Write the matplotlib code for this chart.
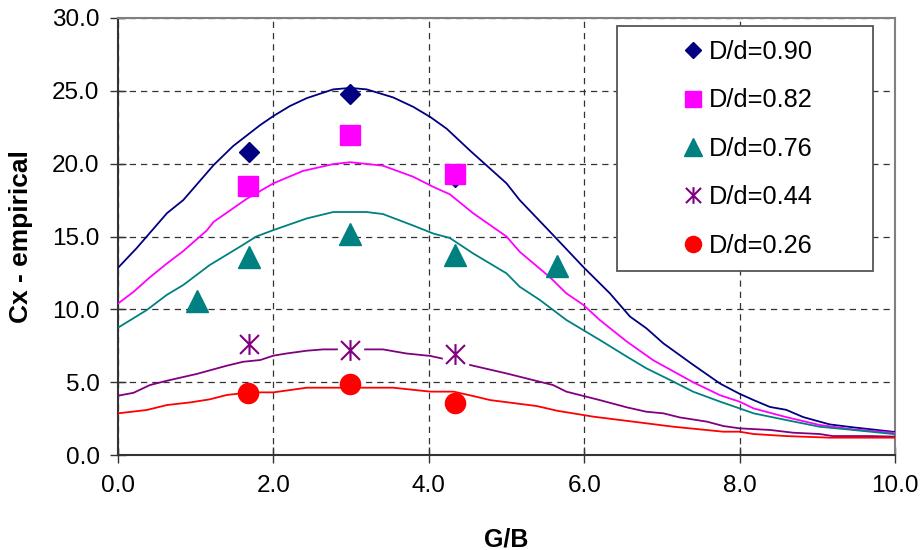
import numpy as np
import matplotlib.pyplot as plt
from matplotlib.path import Path
from matplotlib.patches import Rectangle

# measured points (markers)
x090 = [1.69, 2.99, 4.34]
y090 = [20.8, 24.8, 19.1]
x082 = [1.67, 2.99, 4.34]
y082 = [18.5, 22.0, 19.3]
x076 = [1.02, 1.69, 2.99, 4.34, 5.65]
y076 = [10.6, 13.6, 15.2, 13.7, 13.0]
x044 = [1.69, 2.99, 4.34]
y044 = [7.6, 7.2, 6.9]
x026 = [1.67, 2.99, 4.34]
y026 = [4.25, 4.9, 3.55]

# fitted curves
cx090 = [0.0, 0.24, 0.63, 0.84, 1.23, 1.48, 1.83, 2.0, 2.21, 2.43, 2.77, 2.99, 3.2, 3.54, 3.8,
         4.02, 4.23, 4.53, 5.0, 5.17, 5.6, 5.99, 6.33, 6.59, 6.8, 7.02, 7.4, 7.75, 8.0, 8.18,
         8.39, 8.6, 8.82, 9.16, 9.46, 10.0]
cy090 = [12.85, 14.2, 16.6, 17.5, 19.9, 21.2, 22.65, 23.27, 23.95, 24.5, 25.1, 25.2, 25.1, 24.55, 23.9,
         23.2, 22.4, 20.9, 18.65, 17.5, 15.1, 12.9, 11.1, 9.5, 8.7, 7.66, 6.2, 4.9, 4.2, 3.77,
         3.3, 3.1, 2.6, 2.1, 1.9, 1.58]
cx082 = [0.0, 0.2, 0.41, 0.63, 0.84, 1.14, 1.23, 1.66, 2.0, 2.38, 2.77, 2.99, 3.41, 3.8, 4.06,
         4.27, 4.57, 5.0, 5.17, 5.56, 5.77, 5.99, 6.2, 6.55, 6.89, 7.4, 7.75, 8.0, 8.18, 8.6,
         9.03, 9.46, 10.0]
cy082 = [10.4, 11.2, 12.2, 13.15, 14.0, 15.4, 16.0, 17.6, 18.65, 19.5, 19.97, 20.1, 19.86, 19.1, 18.4,
         17.9, 16.6, 15.0, 13.95, 12.2, 11.1, 10.3, 9.27, 7.78, 6.5, 5.0, 4.1, 3.66, 3.2, 2.6,
         2.06, 1.76, 1.52]
cx076 = [0.0, 0.37, 0.63, 0.84, 1.18, 1.57, 1.78, 2.0, 2.43, 2.77, 3.2, 3.41, 3.8, 4.06, 4.27,
         4.57, 5.0, 5.17, 5.43, 5.77, 6.2, 6.55, 6.8, 7.15, 7.4, 7.75, 8.0, 8.18, 8.6, 9.03,
         9.46, 10.0]
cy076 = [8.74, 9.95, 11.0, 11.67, 13.04, 14.3, 15.0, 15.44, 16.24, 16.68, 16.68, 16.54, 15.75, 15.2, 14.9,
         13.84, 12.47, 11.55, 10.64, 9.27, 7.9, 6.75, 5.95, 5.03, 4.35, 3.66, 3.2, 2.86, 2.4, 1.94,
         1.72, 1.43]
cx044 = [0.0, 0.2, 0.41, 0.63, 1.01, 1.4, 1.61, 1.83, 2.0, 2.17, 2.43, 2.64, 3.2, 3.41, 3.71,
         4.02, 4.19, 4.53, 5.0, 5.6, 5.77, 6.2, 6.55, 6.8, 7.02, 7.23, 7.58, 7.79, 8.0, 8.39,
         8.69, 9.03, 9.2, 9.68, 10.0]
cy044 = [4.07, 4.27, 4.8, 5.1, 5.56, 6.13, 6.4, 6.52, 6.82, 6.97, 7.16, 7.25, 7.25, 7.25, 6.97,
         6.8, 6.6, 6.18, 5.6, 4.8, 4.35, 3.77, 3.27, 2.97, 2.86, 2.58, 2.29, 1.99, 1.83, 1.72,
         1.53, 1.44, 1.3, 1.3, 1.26]
cx026 = [0.0, 0.37, 0.63, 0.93, 1.18, 1.4, 1.7, 2.0, 2.43, 2.77, 3.54, 4.02, 4.32, 4.57, 4.79,
         5.39, 5.65, 6.12, 6.63, 7.15, 7.79, 8.0, 8.18, 8.6, 9.16, 9.46, 10.0]
cy026 = [2.86, 3.09, 3.43, 3.61, 3.82, 4.12, 4.3, 4.3, 4.62, 4.62, 4.62, 4.35, 4.35, 4.05, 3.77,
         3.36, 3.04, 2.63, 2.29, 1.94, 1.6, 1.6, 1.44, 1.3, 1.19, 1.19, 1.19]

labels = ['D/d=0.90', 'D/d=0.82', 'D/d=0.76', 'D/d=0.44', 'D/d=0.26']
xticks = [0, 2, 4, 6, 8, 10]
yticks = [0, 5, 10, 15, 20, 25, 30]

plt.rcParams['font.family'] = ['Liberation Sans', 'DejaVu Sans']

# Excel style asterisk: X plus vertical bar
star = Path([(-1, -1), (1, 1), (-1, 1), (1, -1), (0, -1.1), (0, 1.1)],
            [Path.MOVETO, Path.LINETO, Path.MOVETO, Path.LINETO, Path.MOVETO, Path.LINETO])

fig = plt.figure(figsize=(9.24, 5.5), dpi=100)
ax = fig.add_axes([118 / 924, 95 / 550, 777 / 924, 437 / 550])

lw = 1.3
ax.plot(cx090, cy090, color='#000080', lw=lw, zorder=3)
ax.plot(cx082, cy082, color='#FF00FF', lw=lw, zorder=3)
ax.plot(cx076, cy076, color='#008080', lw=lw, zorder=3)
ax.plot(cx044, cy044, color='#800080', lw=lw, zorder=3)
ax.plot(cx026, cy026, color='#FF0000', lw=lw, zorder=3)

h1, = ax.plot(x090, y090, 'D', color='#000080', ms=10.5, zorder=5)
h2, = ax.plot(x082, y082, 's', color='#FF00FF', ms=14, zorder=5)
h3, = ax.plot(x076, y076, '^', color='#008080', ms=16, zorder=5)
# white background behind the asterisks breaks the curve like Excel does
ax.plot(x044, y044, 's', color='white', ms=18, zorder=4)
h4, = ax.plot(x044, y044, marker=star, ls='none', color='#800080', ms=15,
              mew=1.5, zorder=5)
h5, = ax.plot(x026, y026, 'o', color='#FF0000', ms=14.5, zorder=5)

ax.set_xlim(0, 10)
ax.set_ylim(0, 30)
ax.set_xticks(xticks)
ax.set_yticks(yticks)
ax.set_xticklabels([f'{v:.1f}' for v in xticks])
ax.set_yticklabels([f'{v:.1f}' for v in yticks])

ax.tick_params(direction='inout', length=11.5, width=1, color='#333333',
               labelsize=17.5)
ax.tick_params(axis='y', pad=7.5)
ax.tick_params(axis='x', pad=9)
ax.grid(True, color='#333333', lw=0.9, ls=(0, (5, 4)))
ax.set_axisbelow(True)

for s in ['top', 'right']:
    ax.spines[s].set_color('#808080')
    ax.spines[s].set_linewidth(1.5)
for s in ['left', 'bottom']:
    ax.spines[s].set_color('#333333')
    ax.spines[s].set_linewidth(1.5)

ax.set_xlabel('G/B', fontsize=18, fontweight='bold')
ax.set_ylabel('Cx - empirical', fontsize=19, fontweight='bold')
ax.xaxis.set_label_coords(0.5, -0.165)
ax.yaxis.set_label_coords(-0.109, 0.5)

# legend frame
fig.patches.append(Rectangle((617 / 924, 1 - 271 / 550), 256 / 924, 245 / 550,
                             transform=fig.transFigure, facecolor='white',
                             edgecolor='#555555', lw=1.3, zorder=2))
fig.legend([h1, h2, h3, h4, h5], labels, loc='upper left',
           bbox_to_anchor=(680 / 924, 1 - 40 / 550), frameon=False,
           fontsize=18.3, labelspacing=0.96, handlelength=1.0, handletextpad=0.13,
           borderpad=0, borderaxespad=0, markerscale=0.8)

plt.savefig('out.png', dpi=100)
